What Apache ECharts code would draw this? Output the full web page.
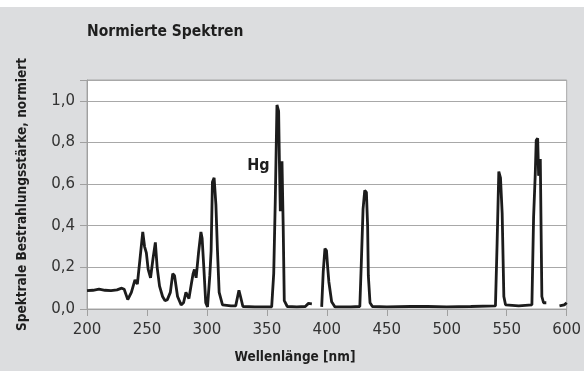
<!DOCTYPE html>
<html>
<head>
<meta charset="utf-8">
<script src="https://cdn.jsdelivr.net/npm/echarts@6/dist/echarts.min.js"></script>
<style>
  html, body { margin: 0; padding: 0; background: #fff; }
  #chart { width: 584px; height: 371px; }
</style>
</head>
<body>
<div id="chart"></div>
<script>
// Wellenlänge [nm] und normierte Bestrahlungsstärke (null = Lücke in der Messkurve)
const wavelengths = [
  200, 205, 210, 215, 220, 225, 229, 231, 234, 237, 240, 242, 244, 246.5, 248, 249.5,
  251, 253, 255, 257, 258.5, 260.5, 263, 265, 267, 269.5, 271.5, 273, 275.5, 278.5,
  280.5, 282.5, 285, 287, 288.5, 289.6, 291, 293, 295, 296, 297.5, 299, 300.5, 302.4,
  303.5, 304.6, 306, 307.5, 308.8, 310.2, 313, 320, 324, 326.7, 328, 330, 340, 354,
  355.7, 357, 358.4, 359.8, 360.4, 361.2, 362.6, 363.6, 364.5, 367, 375, 382, 384.7,
  387.5, 390, 395.7, 397, 398.4, 399.7, 400.7, 401.7, 404, 406.8, 420, 427.5, 428.8,
  430.2, 431.6, 433, 434, 434.6, 436, 438, 450, 470, 484, 500, 520, 540.6, 542, 543.4,
  544.8, 546.2, 547.6, 549, 560, 571, 572.4, 573.8, 574.6, 575.8, 576.6, 578, 579.3,
  580.7, 583, 588, 594, 598, 600
];
const irradiance = [
  0.088, 0.090, 0.095, 0.090, 0.088, 0.092, 0.10, 0.095, 0.045, 0.08, 0.14, 0.12, 0.23, 0.37, 0.30, 0.27,
  0.19, 0.15, 0.24, 0.32, 0.20, 0.11, 0.06, 0.04, 0.045, 0.08, 0.17, 0.16, 0.06, 0.02,
  0.03, 0.08, 0.05, 0.12, 0.17, 0.19, 0.15, 0.27, 0.37, 0.34, 0.19, 0.03, 0.01, 0.16,
  0.28, 0.61, 0.63, 0.50, 0.28, 0.08, 0.02, 0.015, 0.015, 0.09, 0.06, 0.012, 0.01, 0.01,
  0.17, 0.52, 0.98, 0.95, 0.72, 0.47, 0.71, 0.40, 0.04, 0.012, 0.01, 0.012, 0.027,
  0.025, null, 0.01, 0.18, 0.29, 0.28, 0.20, 0.13, 0.035, 0.01, 0.01, 0.012, 0.23,
  0.48, 0.57, 0.56, 0.40, 0.16, 0.03, 0.012, 0.01, 0.012, 0.012, 0.01, 0.012, 0.015, 0.32, 0.66,
  0.63, 0.46, 0.06, 0.02, 0.015, 0.02, 0.44, 0.65, 0.81, 0.82, 0.64, 0.72, 0.06,
  0.03, 0.03, null, 0.015, 0.02, 0.03
];
const xTicks = [200, 250, 300, 350, 400, 450, 500, 550, 600];
const yTicks = [0, 0.2, 0.4, 0.6, 0.8, 1.0];
const hgLabel = { text: 'Hg', nm: 343, value: 0.69 };

const condensed = "'Liberation Sans Narrow', 'DejaVu Sans Condensed', sans-serif";
const chart = echarts.init(document.getElementById('chart'));

chart.setOption({
  animation: false,
  backgroundColor: '#fff',
  graphic: [{
    type: 'rect', silent: true, z: -10,
    shape: { x: 0, y: 7, width: 584, height: 364 },
    style: { fill: '#dcdddf' }
  }],
  title: [{
    text: 'Normierte Spektren',
    left: 87, top: 24, padding: 0,
    textStyle: { fontFamily: condensed, fontWeight: 'bold', fontSize: 15.5, color: '#1e1e1e' }
  }, {
    text: 'Wellenlänge [nm]',
    left: 295, top: 350, padding: 0, textAlign: 'center',
    textStyle: { fontFamily: condensed, fontWeight: 'bold', fontSize: 13.5, color: '#1e1e1e' }
  }],
  grid: {
    left: 87, right: 13, top: 80, bottom: 62,
    show: true, backgroundColor: '#fff', borderColor: '#a8a8a8', borderWidth: 1
  },
  xAxis: {
    type: 'value', min: 200, max: 600, interval: 50,
    axisLine: { show: true, lineStyle: { color: '#a0a0a0', width: 1 } },
    axisTick: { show: true, length: 7, lineStyle: { color: '#a0a0a0' } },
    axisLabel: {
      margin: 14, color: '#333', fontFamily: 'DejaVu Sans', fontSize: 15,
      formatter: v => xTicks.includes(v) ? String(v) : ''
    },
    splitLine: { show: false }
  },
  yAxis: {
    type: 'value', min: 0, max: 1.1, interval: 0.2,
    name: 'Spektrale Bestrahlungsstärke, normiert',
    nameLocation: 'middle', nameGap: 58,
    nameTextStyle: { fontFamily: condensed, fontWeight: 'bold', fontSize: 13.5, color: '#1e1e1e' },
    axisLine: { show: true, lineStyle: { color: '#a0a0a0', width: 1 } },
    axisTick: { show: true, length: 7, lineStyle: { color: '#a0a0a0' } },
    axisLabel: {
      margin: 12, color: '#333', fontFamily: 'DejaVu Sans', fontSize: 15,
      formatter: v => {
        const t = yTicks.find(k => Math.abs(k - v) < 1e-6);
        return t === undefined ? '' : t.toFixed(1).replace('.', ',');
      }
    },
    splitLine: { show: true, lineStyle: { color: '#a8a8a8', width: 1 } }
  },
  series: [{
    type: 'line',
    data: wavelengths.map((w, i) => [w, irradiance[i]]),
    showSymbol: false,
    connectNulls: false,
    lineStyle: { color: '#1c1c1c', width: 2.8 },
    markPoint: {
      symbol: 'circle', symbolSize: 0,
      data: [{ coord: [hgLabel.nm, hgLabel.value], value: hgLabel.text }],
      label: {
        show: true, formatter: hgLabel.text, position: 'inside',
        fontFamily: condensed, fontWeight: 'bold', fontSize: 16, color: '#1e1e1e'
      }
    }
  }]
});
</script>
</body>
</html>
